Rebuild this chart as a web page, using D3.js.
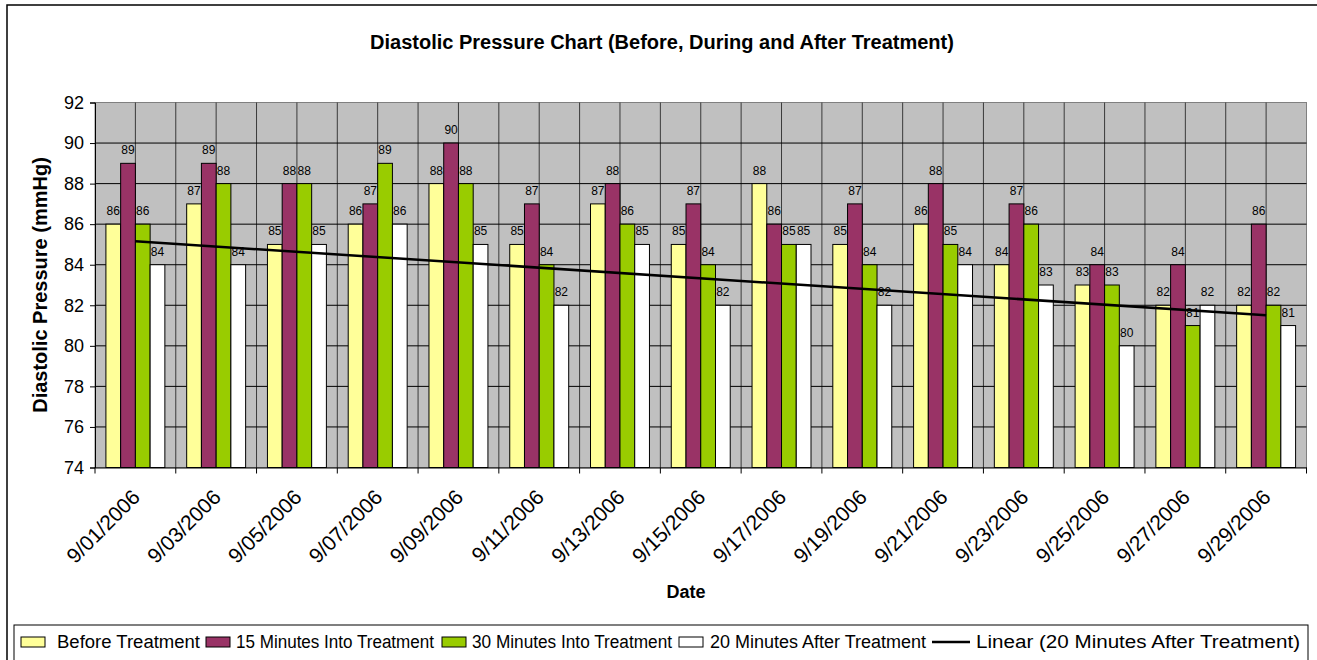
<!DOCTYPE html>
<html><head><meta charset="utf-8">
<script src="https://cdn.jsdelivr.net/npm/d3@7"></script>
<style>
html,body{margin:0;padding:0;background:#fff;}
svg{display:block;font-family:Arial,"Liberation Sans",sans-serif;}
</style></head>
<body>
<svg id="chart" width="1317" height="660"></svg>
<script>
const dates = ["9/01/2006","9/03/2006","9/05/2006","9/07/2006","9/09/2006","9/11/2006","9/13/2006","9/15/2006","9/17/2006","9/19/2006","9/21/2006","9/23/2006","9/25/2006","9/27/2006","9/29/2006"];
const seriesNames = ["Before Treatment","15 Minutes Into Treatment","30 Minutes Into Treatment","20 Minutes After Treatment"];
const beforeTreatment = [86,87,85,86,88,85,87,85,88,85,86,84,83,82,82];
const min15Into = [89,89,88,87,90,87,88,87,86,87,88,87,84,84,86];
const min30Into = [86,88,88,89,88,84,86,84,85,84,85,86,83,81,82];
const min20After = [84,84,85,86,85,82,85,82,85,82,84,83,80,82,81];
const seriesColors = ["#ffff99","#993366","#99cc00","#ffffff"];
const yTicks = [74,76,78,80,82,84,86,88,90,92];
const trendName = "Linear (20 Minutes After Treatment)";

const allSeries = [beforeTreatment, min15Into, min30Into, min20After];
const svg = d3.select("#chart");
const L = 95, R = 1306.5, T = 102.5, B = 467.5;

// outer chart border
svg.append("rect").attr("x",7).attr("y",5).attr("width",1330).attr("height",680)
  .attr("fill","none").attr("stroke","#000").attr("stroke-width",1.5);

const x = d3.scaleBand().domain(dates).range([L,R]).paddingInner(0).paddingOuter(0);
const xs = d3.scaleBand().domain(d3.range(4)).range([0,x.bandwidth()]).paddingOuter(0.74).paddingInner(0);
const y = d3.scaleLinear().domain([74,92]).range([B,T]);

// plot background
svg.append("rect").attr("x",L).attr("y",T).attr("width",R-L).attr("height",B-T)
  .attr("fill","#c0c0c0").attr("stroke","#808080").attr("stroke-width",1);

// vertical gridlines (band edges and mid-band)
const vlines = [];
dates.forEach(d => { vlines.push(x(d)); vlines.push(x(d)+x.bandwidth()/2); });
svg.append("g").selectAll("line").data(vlines.slice(1)).join("line")
  .attr("x1",d=>d).attr("x2",d=>d).attr("y1",T).attr("y2",B)
  .attr("stroke","#3a3a3a").attr("stroke-width",1);

// horizontal gridlines
svg.append("g").selectAll("line").data(yTicks.slice(1,-1)).join("line")
  .attr("x1",L).attr("x2",R).attr("y1",d=>y(d)).attr("y2",d=>y(d))
  .attr("stroke","#000").attr("stroke-width",1);

// bars
allSeries.forEach((vals,si) => {
  const g = svg.append("g");
  g.selectAll("rect").data(vals).join("rect")
    .attr("x",(v,i)=>x(dates[i])+xs(si))
    .attr("width",xs.bandwidth())
    .attr("y",v=>y(v))
    .attr("height",v=>B-y(v))
    .attr("fill",seriesColors[si]).attr("stroke","#000").attr("stroke-width",1);
});

// trendline (least squares on 20 Minutes After)
const n = min20After.length;
const xm = (n+1)/2, ym = d3.mean(min20After);
let sxy=0, sxx=0;
min20After.forEach((v,i)=>{ sxy += (i+1-xm)*(v-ym); sxx += (i+1-xm)*(i+1-xm); });
const slope = sxy/sxx, icpt = ym - slope*xm;
const cx = i => x(dates[i]) + x.bandwidth()/2;
svg.append("line")
  .attr("x1",cx(0)).attr("y1",y(icpt+slope*1))
  .attr("x2",cx(n-1)).attr("y2",y(icpt+slope*n))
  .attr("stroke","#000").attr("stroke-width",2.5);

// value labels
allSeries.forEach((vals,si) => {
  svg.append("g").selectAll("text").data(vals).join("text")
    .attr("x",(v,i)=>x(dates[i])+xs(si)+xs.bandwidth()/2)
    .attr("y",v=>y(v)-9)
    .attr("text-anchor","middle").attr("font-size",12).attr("fill","#000")
    .text(v=>v);
});

// axes
const yAxis = d3.axisLeft(y).tickValues(yTicks).tickSize(5).tickPadding(6);
const ya = svg.append("g").attr("transform",`translate(${L},0)`).call(yAxis);
ya.select(".domain").attr("stroke","#000");
ya.selectAll("text").attr("font-size",18).attr("font-family","Arial,'Liberation Sans',sans-serif").attr("fill","#000");

const xAxis = d3.axisBottom(x).tickSize(0).tickFormat(()=>"");
const xa = svg.append("g").attr("transform",`translate(0,${B})`).call(xAxis);
xa.select(".domain").attr("stroke","#000");
xa.selectAll(".tick").remove();
// tick marks at band boundaries
const edges = dates.map(d=>x(d)).concat([R]);
svg.append("g").selectAll("line").data(edges).join("line")
  .attr("x1",d=>d).attr("x2",d=>d).attr("y1",B).attr("y2",B+6).attr("stroke","#000");

// rotated date labels
svg.append("g").selectAll("text").data(dates).join("text")
  .attr("transform",d=>`translate(${x(d)+x.bandwidth()/2+6},${B+31}) rotate(-45)`)
  .attr("text-anchor","end").attr("font-size",21).attr("fill","#000")
  .text(d=>d);

// titles
svg.append("text").attr("x",662).attr("y",49).attr("text-anchor","middle")
  .attr("font-size",20).attr("font-weight","bold").text("Diastolic Pressure Chart (Before, During and After Treatment)");
svg.append("text").attr("transform",`translate(47,285) rotate(-90)`).attr("text-anchor","middle")
  .attr("font-size",20).attr("font-weight","bold").text("Diastolic Pressure (mmHg)");
svg.append("text").attr("x",686).attr("y",598).attr("text-anchor","middle")
  .attr("font-size",18).attr("font-weight","bold").text("Date");

// legend
svg.append("rect").attr("x",14).attr("y",625).attr("width",1294).attr("height",50)
  .attr("fill","#fff").attr("stroke","#000").attr("stroke-width",1);
const ly = 642;
const swatchX = [21, 206, 442, 679];
const labelX = [57, 236, 472, 710];
const labelW = [143, 198, 200, 216];
seriesNames.forEach((name,si)=>{
  svg.append("rect").attr("x",swatchX[si]).attr("y",ly-5).attr("width",24).attr("height",10)
    .attr("fill",seriesColors[si]).attr("stroke","#000").attr("stroke-width",1);
  svg.append("text").attr("x",labelX[si]).attr("y",ly).attr("dy","0.35em")
    .attr("font-size",18).attr("textLength",labelW[si]).attr("lengthAdjust","spacingAndGlyphs").text(name);
});
svg.append("line").attr("x1",932).attr("x2",970).attr("y1",ly).attr("y2",ly)
  .attr("stroke","#000").attr("stroke-width",2.5);
svg.append("text").attr("x",976).attr("y",ly).attr("dy","0.35em").attr("font-size",18)
  .attr("textLength",324).attr("lengthAdjust","spacingAndGlyphs").text(trendName);
</script>
</body></html>
